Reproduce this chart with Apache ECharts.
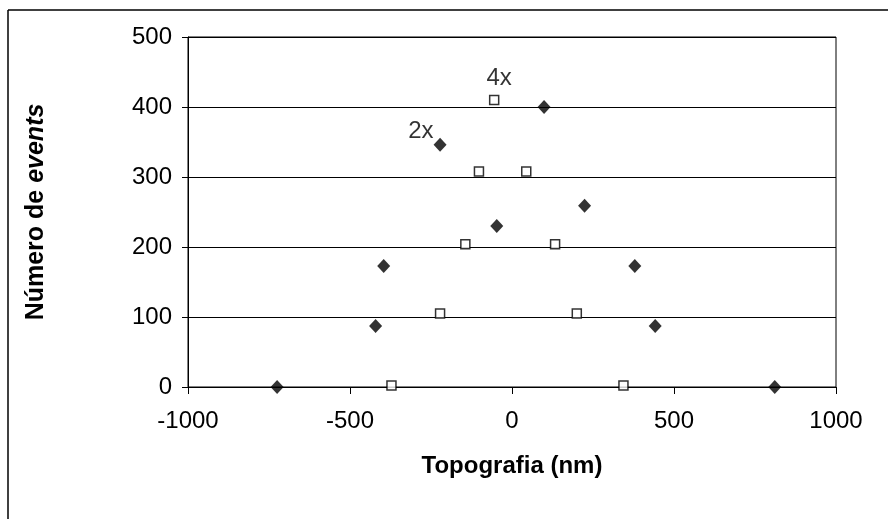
<!DOCTYPE html>
<html>
<head>
<meta charset="utf-8">
<script src="https://cdn.jsdelivr.net/npm/echarts@6/dist/echarts.min.js"></script>
<style>
  html, body { margin: 0; padding: 0; background: #fff; }
  #chart { width: 888px; height: 519px; }
</style>
</head>
<body>
<div id="chart"></div>
<script>
// Event counts versus topography (nm) for the two data sets
const diamondX = [-725, -421, -396, -222, -47, 99, 224, 379, 442, 811];
const diamondY = [0, 87, 173, 346, 230, 400, 259, 173, 87, 0];
const squareX = [-372, -222, -144, -102, -55, 44, 133, 200, 344];
const squareY = [2, 105, 204, 308, 410, 308, 204, 105, 2];
const diamondTag = '2x';
const squareTag = '4x';
const diamondTagIndex = 3;
const squareTagIndex = 4;
const xTicks = { min: -1000, max: 1000, step: 500 };
const yTicks = { min: 0, max: 500, step: 100 };

const FONT = '"Liberation Sans", Arial, sans-serif';

function points(xs, ys, tagIndex, tag, labelOpts) {
  return xs.map((x, i) => {
    const p = { value: [x, ys[i]] };
    if (i === tagIndex) {
      p.label = Object.assign({
        show: true,
        formatter: tag,
        color: '#000',
        fontFamily: FONT,
        fontSize: 24
      }, labelOpts);
    }
    return p;
  });
}

const plain = v => String(v);

const chart = echarts.init(document.getElementById('chart'), null, { renderer: 'canvas' });

chart.setOption({
  animation: false,
  backgroundColor: '#fff',
  grid: {
    left: 188, right: 52, top: 37, bottom: 132,
    show: true, borderColor: '#000', borderWidth: 1, backgroundColor: 'transparent'
  },
  graphic: [
    { type: 'line', shape: { x1: 8, y1: 10, x2: 888, y2: 10 }, style: { stroke: '#000', lineWidth: 1.5 } },
    { type: 'line', shape: { x1: 8, y1: 10, x2: 8, y2: 519 }, style: { stroke: '#000', lineWidth: 1.5 } }
  ],
  xAxis: {
    type: 'value',
    min: xTicks.min, max: xTicks.max, interval: xTicks.step,
    name: 'Topografia (nm)',
    nameLocation: 'middle',
    nameGap: 67,
    nameTextStyle: { fontFamily: FONT, fontSize: 24, fontWeight: 'bold', color: '#000' },
    axisLine: { onZero: false, lineStyle: { color: '#000', width: 1 } },
    axisTick: { show: true, inside: false, length: 7, lineStyle: { color: '#000' } },
    axisLabel: { fontFamily: FONT, fontSize: 24, color: '#000', margin: 22, formatter: plain },
    splitLine: { show: false }
  },
  yAxis: {
    type: 'value',
    min: yTicks.min, max: yTicks.max, interval: yTicks.step,
    name: '{b|Número de }{i|events}',
    nameLocation: 'middle',
    nameRotate: 90,
    nameGap: 139,
    nameTextStyle: {
      rich: {
        b: { fontFamily: FONT, fontSize: 25, fontWeight: 'bold', color: '#000' },
        i: { fontFamily: FONT, fontSize: 25, fontWeight: 'bold', fontStyle: 'italic', color: '#000' }
      }
    },
    axisLine: { show: true, onZero: false, lineStyle: { color: '#000', width: 1 } },
    axisTick: { show: true, inside: false, length: 6, lineStyle: { color: '#000' } },
    axisLabel: { fontFamily: FONT, fontSize: 24, color: '#000', margin: 16, formatter: plain },
    splitLine: { show: true, lineStyle: { color: '#000', width: 1 } }
  },
  series: [
    {
      name: diamondTag,
      type: 'scatter',
      symbol: 'diamond',
      symbolSize: [13, 14],
      itemStyle: { color: '#000' },
      data: points(diamondX, diamondY, diamondTagIndex, diamondTag,
        { position: 'left', distance: 0, offset: [0, -13] }),
      z: 3
    },
    {
      name: squareTag,
      type: 'scatter',
      symbol: 'rect',
      symbolSize: 9,
      itemStyle: { color: '#fff', borderColor: '#000', borderWidth: 1.5 },
      data: points(squareX, squareY, squareTagIndex, squareTag,
        { position: 'top', distance: 4, offset: [5, 0] }),
      z: 4
    }
  ]
});
</script>
</body>
</html>
